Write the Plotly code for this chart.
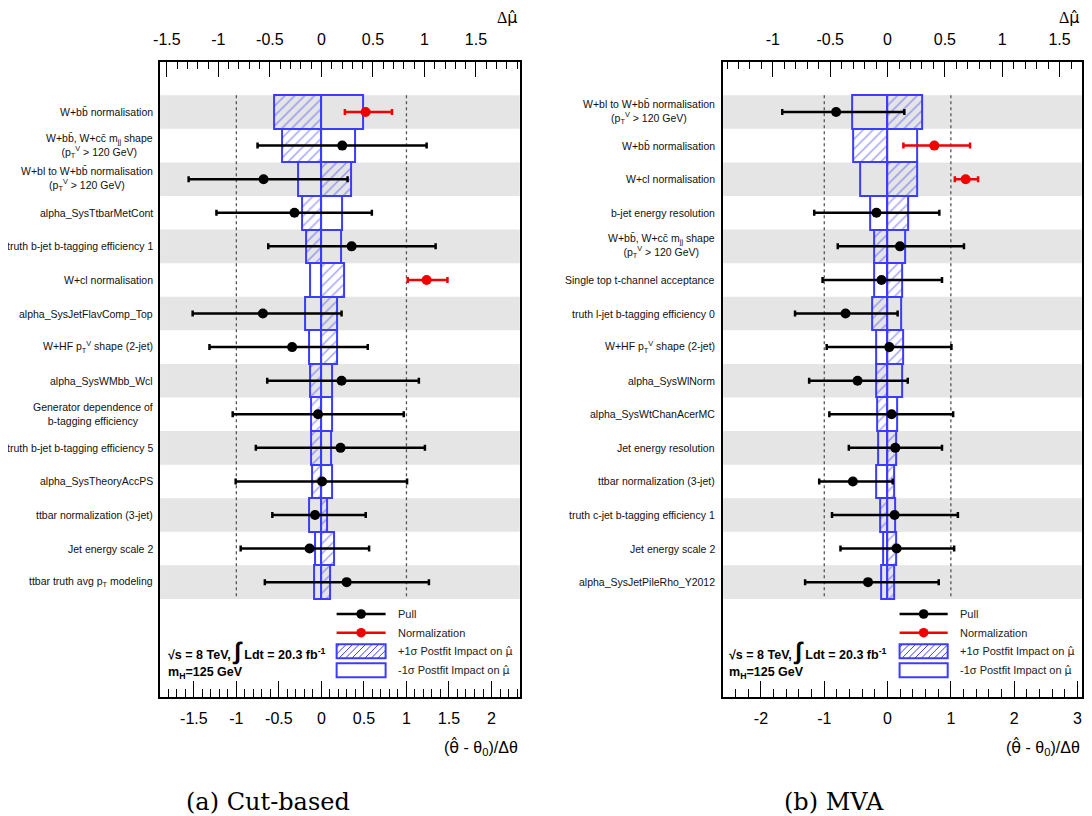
import plotly.graph_objects as go

# ---------------- data ----------------
rows = list(range(15))

labels_cut = [
    "W+bb\u0304 normalisation",
    "W+bb\u0304, W+cc\u0304 m<sub>jj</sub> shape<br>(p<sub>T</sub><sup>V</sup> &gt; 120 GeV)",
    "W+bl to W+bb\u0304 normalisation<br>(p<sub>T</sub><sup>V</sup> &gt; 120 GeV)",
    "alpha_SysTtbarMetCont",
    "truth b-jet b-tagging efficiency 1",
    "W+cl normalisation",
    "alpha_SysJetFlavComp_Top",
    "W+HF p<sub>T</sub><sup>V</sup> shape (2-jet)",
    "alpha_SysWMbb_Wcl",
    "Generator dependence of<br>b-tagging efficiency",
    "truth b-jet b-tagging efficiency 5",
    "alpha_SysTheoryAccPS",
    "ttbar normalization (3-jet)",
    "Jet energy scale 2",
    "ttbar truth avg p<sub>T</sub> modeling",
]
pull_cut = [0.52, 0.245, -0.68, -0.317, 0.355, 1.237, -0.688, -0.344, 0.237, -0.04, 0.225, 0.008, -0.075, -0.139, 0.297]
pull_cut_lo = [0.244, 0.996, 0.881, 0.917, 0.98, 0.222, 0.826, 0.972, 0.874, 1.003, 0.996, 1.016, 0.502, 0.81, 0.962]
pull_cut_hi = [0.31, 0.992, 0.988, 0.91, 0.988, 0.245, 0.925, 0.889, 0.909, 1.008, 0.992, 0.999, 0.596, 0.70, 0.967]
norm_cut = [True, False, False, False, False, True, False, False, False, False, False, False, False, False, False]
impact_up_cut = [-0.46, -0.382, 0.284, -0.186, -0.153, 0.222, 0.153, 0.153, -0.115, -0.104, -0.104, -0.095, 0.059, 0.124, 0.081]
impact_dn_cut = [0.40, 0.326, -0.229, 0.196, 0.186, -0.115, -0.160, -0.124, 0.107, 0.107, 0.098, 0.104, -0.124, -0.062, -0.072]

labels_mva = [
    "W+bl to W+bb\u0304 normalisation<br>(p<sub>T</sub><sup>V</sup> &gt; 120 GeV)",
    "W+bb\u0304 normalisation",
    "W+cl normalisation",
    "b-jet energy resolution",
    "W+bb\u0304, W+cc\u0304 m<sub>jj</sub> shape<br>(p<sub>T</sub><sup>V</sup> &gt; 120 GeV)",
    "Single top t-channel acceptance",
    "truth l-jet b-tagging efficiency 0",
    "W+HF p<sub>T</sub><sup>V</sup> shape (2-jet)",
    "alpha_SysWlNorm",
    "alpha_SysWtChanAcerMC",
    "Jet energy resolution",
    "ttbar normalization (3-jet)",
    "truth c-jet b-tagging efficiency 1",
    "Jet energy scale 2",
    "alpha_SysJetPileRho_Y2012",
]
pull_mva = [-0.813, 0.739, 1.234, -0.176, 0.196, -0.096, -0.664, 0.027, -0.474, 0.064, 0.122, -0.548, 0.111, 0.143, -0.309]
pull_mva_lo = [0.851, 0.489, 0.171, 0.983, 0.983, 0.931, 0.798, 0.989, 0.765, 0.984, 0.734, 0.532, 0.989, 0.887, 0.994]
pull_mva_hi = [1.078, 0.564, 0.196, 0.994, 1.011, 0.956, 0.823, 0.982, 0.793, 0.972, 0.738, 0.628, 1.0, 0.909, 1.117]
norm_mva = [False, True, True, False, False, False, False, False, False, False, False, False, False, False, False]
impact_up_mva = [0.299, -0.302, 0.256, 0.182, -0.118, 0.123, -0.132, 0.132, -0.103, -0.088, 0.079, 0.053, -0.068, 0.079, 0.055]
impact_dn_mva = [-0.308, 0.261, -0.235, -0.156, 0.153, -0.12, 0.114, -0.103, 0.129, 0.085, -0.082, -0.1, 0.068, -0.038, -0.053]

mu_ticks_cut = [-1.5, -1, -0.5, 0, 0.5, 1, 1.5]
pull_ticks_cut = [-1.5, -1, -0.5, 0, 0.5, 1, 1.5, 2]
mu_ticks_mva = [-1, -0.5, 0, 0.5, 1, 1.5]
pull_ticks_mva = [-2, -1, 0, 1, 2, 3]

# ---------------- styling ----------------
W, H = 1092, 816
OX, OY = 13, 8          # page offset of the plot div
def X(px): return (px - OX) / W
def Y(py): return 1 - (py - OY) / H

BLUE = "rgb(60,60,255)"
RED = "rgb(240,0,0)"
BAND = "rgb(229,229,229)"
SANS = "Liberation Sans, Arial, sans-serif"
MUHAT = "<span style='font-family:DejaVu Sans'>\u03bc\u0302</span>"
THHAT = "<span style='font-family:DejaVu Sans'>\u03b8\u0302</span>"

def fmt(v):
    return "%g" % v

def minor_vals(lo, hi, step):
    out = []
    n0 = int(round(lo / step)) - 1
    n1 = int(round(hi / step)) + 1
    for n in range(n0, n1 + 1):
        v = round(n * step, 6)
        if lo <= v <= hi:
            out.append(v)
    return out

fig = go.Figure()

panels = [
    dict(xm="x", xp="x2", ya="y", xmk="xaxis", xpk="xaxis2", yk="yaxis",
         px0=159, px1=521, mu_range=[-1.566, 1.925], pull_range=[-1.897, 2.332],
         mu_ticks=mu_ticks_cut, pull_ticks=pull_ticks_cut, pull_minor=0.1,
         labels=labels_cut, pull=pull_cut, lo=pull_cut_lo, hi=pull_cut_hi, norm=norm_cut,
         up=impact_up_cut, dn=impact_dn_cut, label_x=154,
         leg_x0=336.7, leg_x1=386, leg_tx=396, info_x=165, caption="(a) Cut-based", cap_x=268),
    dict(xm="x3", xp="x4", ya="y2", xmk="xaxis3", xpk="xaxis4", yk="yaxis2",
         px0=725.7, px1=1086.7, mu_range=[-1.434, 1.694], pull_range=[-2.598, 3.069],
         mu_ticks=mu_ticks_mva, pull_ticks=pull_ticks_mva, pull_minor=0.2,
         labels=labels_mva, pull=pull_mva, lo=pull_mva_lo, hi=pull_mva_hi, norm=norm_mva,
         up=impact_up_mva, dn=impact_dn_mva, label_x=720,
         leg_x0=903.3, leg_x1=951.7, leg_tx=961.7, info_x=729.5, caption="(b) MVA", cap_x=837),
]

Y_TOP, Y_BOT = 62, 697
y_range = [17.42, -1.49]

shapes = []
annotations = []
layout_axes = {}

def hatch_path(x0, x1, y0, y1, step=6.5):
    segs = []
    k = x0 + y0 + step * 0.5
    while k < x1 + y1:
        lo = max(x0, k - y1)
        hi = min(x1, k - y0)
        if hi > lo:
            segs.append("M %.5f %.5f L %.5f %.5f" % (X(lo), Y(k - lo), X(hi), Y(k - hi)))
        k += step
    return " ".join(segs)

for p in panels:
    dom = [X(p["px0"]), X(p["px1"])]
    ydom = [Y(Y_BOT), Y(Y_TOP)]
    common = dict(showgrid=False, zeroline=False, showline=True, linecolor="black", linewidth=1.5,
                  ticks="inside", tickwidth=1, tickcolor="black",
                  tickfont=dict(family=SANS, size=16, color="black"))
    layout_axes[p["xmk"]] = dict(
        domain=dom, anchor=p["ya"], side="top", range=p["mu_range"],
        tickmode="array", tickvals=p["mu_ticks"], ticktext=[fmt(v) for v in p["mu_ticks"]],
        ticklen=15, ticklabelstandoff=9,
        minor=dict(tickmode="array", tickvals=minor_vals(p["mu_range"][0], p["mu_range"][1], 0.1),
                   ticks="inside", ticklen=7, tickwidth=1, tickcolor="black"),
        **common)
    layout_axes[p["xpk"]] = dict(
        overlaying=p["xm"], anchor=p["ya"], side="bottom", range=p["pull_range"],
        tickmode="array", tickvals=p["pull_ticks"], ticktext=[fmt(v) for v in p["pull_ticks"]],
        ticklen=16, ticklabelstandoff=6,
        minor=dict(tickmode="array",
                   tickvals=minor_vals(p["pull_range"][0], p["pull_range"][1], p["pull_minor"]),
                   ticks="inside", ticklen=8, tickwidth=1, tickcolor="black"),
        **common)
    layout_axes[p["yk"]] = dict(
        domain=ydom, anchor=p["xm"], range=y_range, showgrid=False, zeroline=False,
        showline=True, mirror=True, linecolor="black", linewidth=1.5,
        ticks="", showticklabels=False)

    # grey bands
    for i in rows:
        if i % 2 == 0:
            shapes.append(dict(type="rect", xref=p["xm"] + " domain", x0=0, x1=1,
                               yref=p["ya"], y0=i - 0.5, y1=i + 0.5,
                               fillcolor=BAND, line=dict(width=0), layer="below"))
    # dashed +-1 sigma lines
    for v in (-1, 1):
        shapes.append(dict(type="line", xref=p["xp"], x0=v, x1=v, yref=p["ya"],
                           y0=rows[0] - 0.5, y1=rows[-1] + 0.5,
                           line=dict(color="rgb(85,85,85)", width=1.3, dash="3px,3px"),
                           layer="below"))

    # impact boxes (on Delta mu axis)
    fig.add_trace(go.Bar(
        x=p["dn"], y=rows, base=0, orientation="h", width=1,
        xaxis=p["xm"], yaxis=p["ya"], showlegend=False, hoverinfo="skip",
        marker=dict(color="rgba(0,0,0,0)", line=dict(color=BLUE, width=2))))
    fig.add_trace(go.Bar(
        x=p["up"], y=rows, base=0, orientation="h", width=1,
        xaxis=p["xm"], yaxis=p["ya"], showlegend=False, hoverinfo="skip",
        marker=dict(color="rgba(0,0,0,0)", line=dict(color=BLUE, width=2),
                    pattern=dict(shape="/", fgcolor=BLUE, bgcolor="rgba(0,0,0,0)",
                                 size=7, solidity=0.2))))

    # pulls
    for is_norm, col in ((False, "black"), (True, RED)):
        idx = [i for i in rows if p["norm"][i] == is_norm]
        fig.add_trace(go.Scatter(
            x=[p["pull"][i] for i in idx], y=idx, mode="markers",
            xaxis=p["xp"], yaxis=p["ya"], showlegend=False,
            marker=dict(color=col, size=10),
            error_x=dict(type="data", symmetric=False,
                         array=[p["hi"][i] for i in idx],
                         arrayminus=[p["lo"][i] for i in idx],
                         color=col, thickness=2.5, width=3)))

    # row labels
    for i in rows:
        annotations.append(dict(text=p["labels"][i], x=X(p["label_x"]), xref="paper",
                                y=i, yref=p["ya"], xanchor="right", yanchor="middle",
                                align="center", showarrow=False,
                                font=dict(family=SANS, size=10.5, color="#111")))

    # axis titles
    annotations.append(dict(text="\u0394" + MUHAT, x=X(p["px1"] - 1), y=Y(18), xref="paper", yref="paper",
                            xanchor="right", yanchor="middle", showarrow=False,
                            font=dict(family="Liberation Serif, serif", size=16, color="black")))
    annotations.append(dict(text="(" + THHAT + " - \u03b8<sub>0</sub>)/\u0394\u03b8", x=X(p["px1"]), y=Y(747),
                            xref="paper", yref="paper", xanchor="right", yanchor="middle",
                            showarrow=False, font=dict(family=SANS, size=16, color="black")))
    annotations.append(dict(text=p["caption"], x=X(p["cap_x"]), y=Y(802), xref="paper", yref="paper",
                            xanchor="center", yanchor="middle", showarrow=False,
                            font=dict(family="DejaVu Serif, serif", size=24, color="black")))

    # info text
    annotations.append(dict(text="<b>\u221as = 8 TeV, <span style='font-size:24px'>\u222b</span> Ldt = 20.3 fb<sup>-1</sup></b>",
                            x=X(p["info_x"]), y=Y(651), xref="paper", yref="paper",
                            xanchor="left", yanchor="middle", showarrow=False,
                            font=dict(family=SANS, size=12.5, color="black")))
    annotations.append(dict(text="<b>m<sub>H</sub>=125 GeV</b>",
                            x=X(p["info_x"]), y=Y(673), xref="paper", yref="paper",
                            xanchor="left", yanchor="middle", showarrow=False,
                            font=dict(family=SANS, size=12.5, color="black")))

    # legend
    lx0, lx1 = p["leg_x0"], p["leg_x1"]
    lxc = (lx0 + lx1) / 2
    for yy, col in ((614, "black"), (632.7, RED)):
        shapes.append(dict(type="line", xref="paper", yref="paper", x0=X(lx0), x1=X(lx1),
                           y0=Y(yy), y1=Y(yy), line=dict(color=col, width=2.5)))
        shapes.append(dict(type="circle", xref="paper", yref="paper",
                           xsizemode="pixel", ysizemode="pixel", xanchor=X(lxc), yanchor=Y(yy),
                           x0=-4.8, x1=4.8, y0=-4.8, y1=4.8,
                           fillcolor=col, line=dict(color=col, width=0)))
    shapes.append(dict(type="path", xref="paper", yref="paper",
                       path=hatch_path(lx0, lx1, 644.3, 658.3),
                       line=dict(color=BLUE, width=1)))
    for (y0, y1) in ((644.3, 658.3), (663.3, 677.3)):
        shapes.append(dict(type="rect", xref="paper", yref="paper",
                           x0=X(lx0), x1=X(lx1), y0=Y(y1), y1=Y(y0),
                           line=dict(color=BLUE, width=2), fillcolor="rgba(0,0,0,0)"))
    leg_texts = ["Pull", "Normalization",
                 "+1\u03c3 Postfit Impact on " + MUHAT, "-1\u03c3 Postfit Impact on " + MUHAT]
    for yy, t in zip((614, 632.7, 651.3, 670.3), leg_texts):
        annotations.append(dict(text=t, x=X(p["leg_tx"]), y=Y(yy), xref="paper", yref="paper",
                                xanchor="left", yanchor="middle", showarrow=False,
                                font=dict(family=SANS, size=11, color="#222")))

fig.update_layout(
    width=W, height=H, margin=dict(l=0, r=0, t=0, b=0),
    paper_bgcolor="white", plot_bgcolor="rgba(0,0,0,0)",
    barmode="overlay", bargap=0, showlegend=False,
    shapes=shapes, annotations=annotations,
    **layout_axes)

fig.write_html("out.html")
